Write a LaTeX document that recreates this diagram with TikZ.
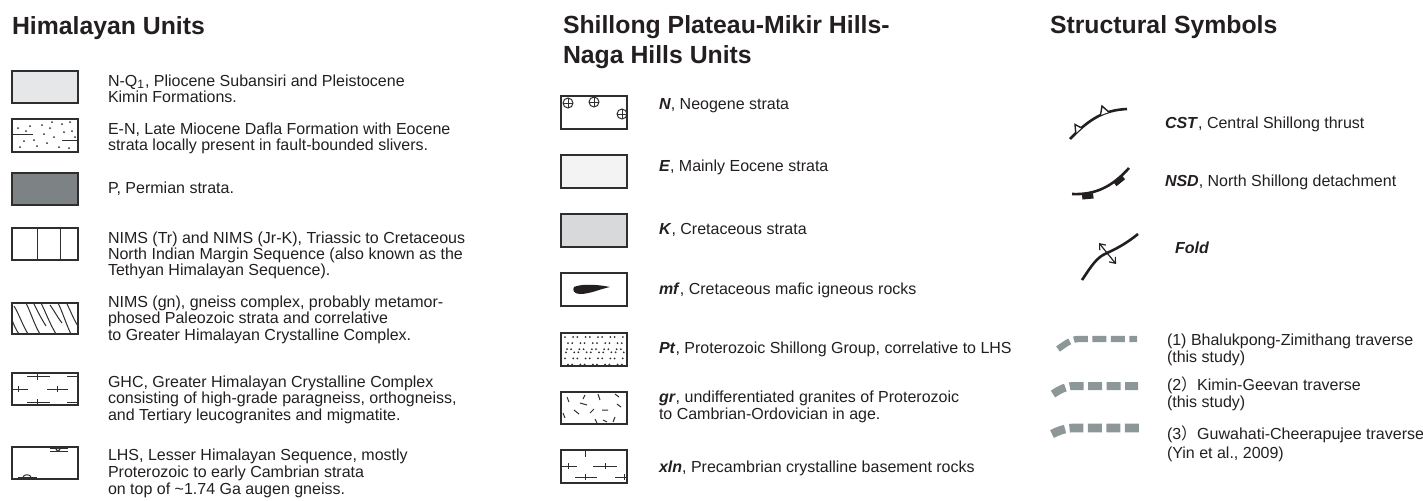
\documentclass[tikz,border=0pt]{standalone}
\usepackage{fontspec}
\setmainfont{Liberation Sans}
\newfontfamily\cjk{Noto Sans CJK SC}
\usetikzlibrary{arrows.meta}
\definecolor{txt}{HTML}{231F20}
\definecolor{bord}{HTML}{2E2E2E}
\definecolor{gNQ}{HTML}{E6E7E8}
\definecolor{gP}{HTML}{7D8285}
\definecolor{gE}{HTML}{F3F3F3}
\definecolor{gK}{HTML}{D8D9DA}
\definecolor{trav}{HTML}{8D9797}
\newcommand\bi[1]{\textbf{\textit{#1}}}
% #1 name, #2 style, #3 x, #4 first baseline y, #5 line step, #6 list of lines
\newcommand\txtlines[6]{%
  \foreach \s [count=\i from 0] in {#6}{%
    \node[#2] (#1-\i) at (#3,{#4+\i*#5}) {\s};}}
\begin{document}
\begin{tikzpicture}[x=0.5pt,y=-0.5pt,
  every node/.style={inner sep=0pt, outer sep=0pt, text=txt},
  body/.style={anchor=base west, font=\fontsize{8}{9}\selectfont},
  head/.style={anchor=base west, font=\fontsize{12.4}{15}\selectfont\bfseries},
  swatch/.style={draw=bord, line width=1pt},
  pat/.style={draw=bord, line width=0.5pt},
  struct/.style={draw=txt, line width=1.3pt},
  travline/.style={draw=trav, dash pattern=on 7pt off 2.25pt}
]
\useasboundingbox (0,0) rectangle (1423,500);

% ---------- headings ----------
\txtlines{hH}{head}{12}{34}{30}{{Himalayan Units}}
\txtlines{hS}{head}{563}{33}{30}{{Shillong Plateau-Mikir Hills-},{Naga Hills Units}}
\txtlines{hT}{head}{1050}{33}{30}{{Structural Symbols}}

% ---------- Himalayan swatches ----------
% N-Q1
\draw[swatch, fill=gNQ] (12,71) rectangle (78,103);
% E-N
\draw[swatch, fill=white] (12,119) rectangle (78,152);
\foreach \p in {(18,128),(30,126),(42,125),(52,122),(62,124),(70,122),(24,141),(34,140),(44,134),(54,137),(64,132),(72,131),(20,147),(37,146),(47,143),(59,147),(69,148),(75,137),(26,131),(50,128)}
  \fill[bord] \p circle[radius=0.5pt];
\draw[pat] (12,134)--(33,134) (62,140)--(78,140);
% P
\draw[swatch, fill=gP] (12,173) rectangle (78,205);
% NIMS
\draw[swatch, fill=white] (12,228) rectangle (78,260);
\draw[pat] (37,228)--(37,260) (60,228)--(60,260);
% NIMS gn
\draw[swatch, fill=white] (12,303) rectangle (78,334);
\begin{scope}
\clip (12,303) rectangle (78,334);
\draw[pat] (12,320) .. controls (14,325) and (16,330) .. (19,334);
\draw[pat] (14,306) .. controls (19,314) and (22,324) .. (28,334);
\draw[pat] (26,303) .. controls (31,313) and (34,324) .. (40,334);
\draw[pat] (34,304) .. controls (38,312) and (41,318) .. (46,326);
\draw[pat] (41,303) .. controls (46,313) and (50,324) .. (56,334);
\draw[pat] (50,305) .. controls (55,312) and (58,318) .. (62,323);
\draw[pat] (58,303) .. controls (63,313) and (66,324) .. (71,334);
\draw[pat] (67,304) .. controls (71,312) and (74,320) .. (78,326);
\end{scope}
% GHC
\draw[swatch, fill=white] (12,373) rectangle (78,405);
\draw[pat] (27,376)--(50,376) (37,373)--(37,380) (67,376)--(78,376)
  (12,389)--(28,389) (18,386)--(18,392) (47,389)--(68,389) (57,386)--(57,392)
  (27,402)--(50,402) (37,399)--(37,405) (67,402)--(78,402);
% LHS
\draw[swatch, fill=white] (12,447) rectangle (78,479);
\draw[pat] (50,448)--(68,448) (50,451)--(68,451);
\draw[pat, fill=white] (58,449.5) circle[radius=0.9pt];
\draw[pat] (18,477)--(37,477);
\draw[pat] (23,477) .. controls (24,474) and (30,474) .. (31,477);

% ---------- Himalayan texts ----------
\txtlines{t1}{body}{108}{86}{16.6}{{N-Q\textsubscript{1}, Pliocene Subansiri and Pleistocene},{Kimin Formations.}}
\txtlines{t2}{body}{108}{134}{16.6}{{E-N, Late Miocene Dafla Formation with Eocene},{strata locally present in fault-bounded slivers.}}
\txtlines{t3}{body}{108}{193}{16.6}{{P, Permian strata.}}
\txtlines{t4}{body}{108}{243}{16.4}{{NIMS (Tr) and NIMS (Jr-K), Triassic to Cretaceous},{North Indian Margin Sequence (also known as the},{Tethyan Himalayan Sequence).}}
\txtlines{t5}{body}{108}{307}{16.5}{{NIMS (gn), gneiss complex, probably metamor-},{phosed Paleozoic strata and correlative},{to Greater Himalayan Crystalline Complex.}}
\txtlines{t6}{body}{108}{387}{16.5}{{GHC, Greater Himalayan Crystalline Complex},{consisting of high-grade paragneiss, orthogneiss,},{and Tertiary leucogranites and migmatite.}}
\txtlines{t7}{body}{108}{460}{17}{{LHS, Lesser Himalayan Sequence, mostly},{Proterozoic to early Cambrian strata},{on top of \textasciitilde1.74 Ga augen gneiss.}}

% ---------- Shillong swatches ----------
% N
\draw[swatch, fill=white] (561,96) rectangle (627,129);
\begin{scope}
\clip (561,96) rectangle (627,129);
\foreach \p in {(568,103),(594,102),(622,114)}{
  \draw[pat] \p circle[radius=2.5pt];
  \draw[pat] \p ++(-5,0) -- ++(10,0);
  \draw[pat] \p ++(0,-5) -- ++(0,10);
}
\end{scope}
\draw[swatch] (561,96) rectangle (627,129);
% E
\draw[swatch, fill=gE] (561,155) rectangle (627,188);
% K
\draw[swatch, fill=gK] (561,214) rectangle (627,247);
% mf
\draw[swatch, fill=white] (561,273) rectangle (627,306);
\fill[txt] (574,287) .. controls (580,284) and (596,284) .. (610,287) .. controls (600,289) and (590,294) .. (580,294) .. controls (574,294) and (572,290) .. cycle;
% Pt
\draw[swatch, fill=white] (561,333) rectangle (627,366);
\foreach \r in {0,...,5}{\foreach \c in {0,...,9}{
  \fill[bord] ({565+\c*6.2+mod(\r*3+\c*2,4)}, {337+\r*5.1+mod(\c*3+\r,3)}) circle[radius=0.5pt];
}}
% gr
\draw[swatch, fill=white] (561,392) rectangle (627,424);
\draw[pat] (567,397)--(569,402) (585,395)--(583,399) (598,394)--(600,400) (615,394)--(619,397)
  (580,403)--(587,405) (574,410)--(579,414) (590,413)--(594,409) (602,410)--(608,410)
  (617,404)--(621,407) (563,413)--(565,418) (603,420)--(607,422) (615,417)--(613,422)
  (595,419)--(597,423);
% xln
\draw[swatch, fill=white] (561,450) rectangle (627,483);
\draw[pat] (585,450)--(585,457) (562,466)--(577,466) (568,463)--(568,469)
  (593,466)--(617,466) (605,463)--(605,469) (575,477)--(597,477) (585,474)--(585,480)
  (615,477)--(627,477) (624,474)--(624,480);

% ---------- Shillong texts ----------
\txtlines{m1}{body}{659}{109}{17}{{\bi{N}, Neogene strata}}
\txtlines{m2}{body}{659}{171}{17}{{\bi{E}, Mainly Eocene strata}}
\txtlines{m3}{body}{659}{234}{17}{{\bi{K}, Cretaceous strata}}
\txtlines{m4}{body}{659}{294}{17}{{\bi{mf}, Cretaceous mafic igneous rocks}}
\txtlines{m5}{body}{659}{353}{17}{{\bi{Pt}, Proterozoic Shillong Group, correlative to LHS}}
\txtlines{m6}{body}{659}{402}{17.5}{{\bi{gr}, undifferentiated granites of Proterozoic},{to Cambrian-Ordovician in age.}}
\txtlines{m7}{body}{659}{472}{17}{{\bi{xln}, Precambrian crystalline basement rocks}}

% ---------- Structural symbols ----------
% CST
\draw[struct] (1070,139) .. controls (1090,118) and (1105,110) .. (1127,109);
\draw[draw=txt, line width=0.7pt, fill=white, line join=miter] (1075.8,133.1) -- (1075,124.5) -- (1081.5,127.9);
\draw[draw=txt, line width=0.7pt, fill=white, line join=miter] (1100.5,115.1) -- (1102,106) -- (1108.8,112);
% NSD
\draw[struct] (1072,194) .. controls (1095,195) and (1112,187) .. (1129,168);
\fill[txt] (1082,194.5) -- (1093,193.2) -- (1093.6,198.5) -- (1082.4,199.5) -- cycle;
\fill[txt] (1113.5,182.2) -- (1122,175.3) -- (1125,179.3) -- (1116.5,186.2) -- cycle;
% Fold
\draw[struct] (1082,280) .. controls (1092,265) and (1097,257) .. (1107,253) .. controls (1120,247) and (1128,242) .. (1138,234);
\draw[draw=txt, line width=0.6pt, {Straight Barb[length=2.5pt,width=4pt]}-{Straight Barb[length=2.5pt,width=4pt]}] (1099,243) -- (1116,264);

\txtlines{s1}{body}{1165}{128}{17}{{\bi{CST}, Central Shillong thrust}}
\txtlines{s2}{body}{1165}{186}{17}{{\bi{NSD}, North Shillong detachment}}
\txtlines{s3}{body}{1175}{253}{17}{{\bi{Fold}}}

% ---------- Traverses ----------
\draw[travline, line width=3.2pt] (1058,349) .. controls (1064,345) and (1070,339.5) .. (1078,339) -- (1137,339);
\draw[travline, line width=4pt] (1053,394) .. controls (1059,390) and (1065,386.5) .. (1073,386) -- (1138,386);
\draw[travline, line width=4.3pt] (1052,434) .. controls (1058,431) and (1064,428.5) .. (1072,428) -- (1139,428);

\txtlines{r1}{body}{1167}{345}{17}{{(1) Bhalukpong-Zimithang traverse},{(this study)}}
\txtlines{r2}{body}{1167}{390}{17}{{(2{\cjk ）}Kimin-Geevan traverse},{(this study)}}
\txtlines{r3}{body}{1167}{439}{19}{{(3{\cjk ）}Guwahati-Cheerapujee traverse},{(Yin et al., 2009)}}
\end{tikzpicture}
\end{document}
